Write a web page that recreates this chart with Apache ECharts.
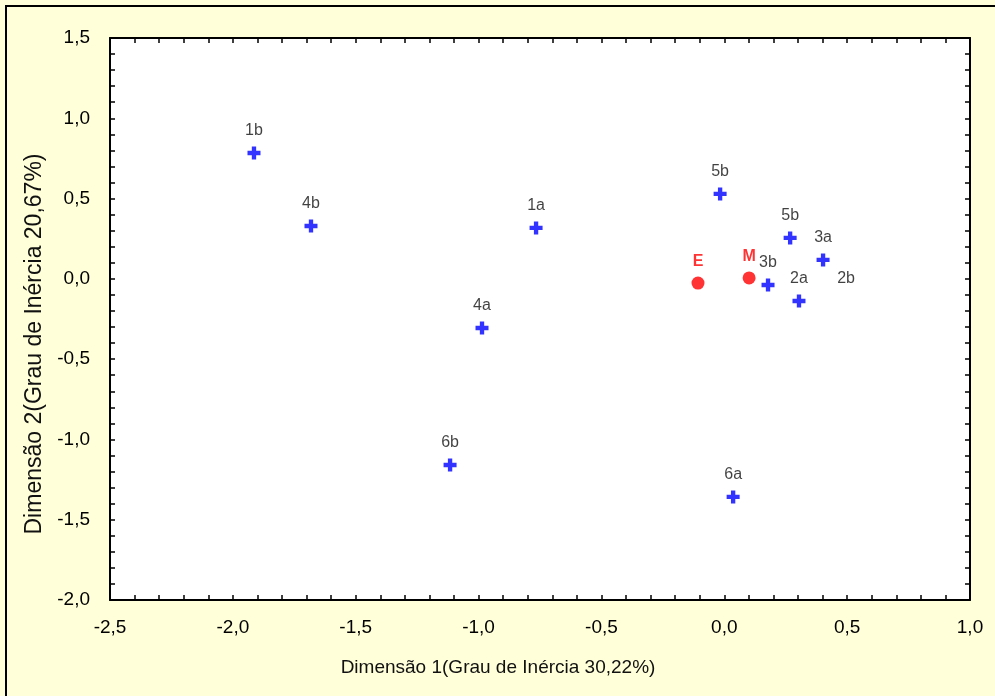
<!DOCTYPE html>
<html>
<head>
<meta charset="utf-8">
<script src="https://cdn.jsdelivr.net/npm/echarts@6/dist/echarts.min.js"></script>
<style>html,body{margin:0;padding:0;background:#FFFFD9;}#c{width:995px;height:696px;}</style>
</head>
<body>
<div id="c"></div>
<script>
const crossLabels = ['1b','4b','1a','4a','6b','6a','5b','5b','3a','3b','2a','2b'];
const crossX = [-1.914,-1.682,-0.766,-0.986,-1.116,0.036,-0.017,0.268,0.402,0.178,0.304,0.402];
const crossY = [0.784,0.329,0.317,-0.306,-1.159,-1.358,0.529,0.255,0.118,-0.038,-0.138,0.118];
const circleLabels = ['E','M'];
const circleX = [-0.107,0.101];
const circleY = [-0.026,0.006];
const xTicks = [-2.5,-2.0,-1.5,-1.0,-0.5,0.0,0.5,1.0];
const yTicks = [-2.0,-1.5,-1.0,-0.5,0.0,0.5,1.0,1.5];

const fmt = v => v.toFixed(1).replace('.', ',');
const font = "'Liberation Sans', Arial, sans-serif";

const crossData = crossLabels.map((n,i) => {
  const d = {name:n, value:[crossX[i], crossY[i]]};
  if (n === '2b') {
    d.itemStyle = {color:'rgba(0,0,0,0)'};
    d.label = {offset:[23, 41]};
  }
  return d;
});
const circleData = circleLabels.map((n,i) => ({name:n, value:[circleX[i], circleY[i]]}));

const chart = echarts.init(document.getElementById('c'));
const axisCommon = {
  axisLine:{show:true, onZero:false, lineStyle:{color:'#000', width:2}},
  axisTick:{show:true, inside:true, length:5, lineStyle:{color:'#000', width:1.5}},
  minorTick:{show:true, splitNumber:5, length:5, lineStyle:{color:'#000', width:1.5}},
  splitLine:{show:false}
};
chart.setOption({
  backgroundColor:'#FFFFD9',
  animation:false,
  graphic:[{type:'rect', shape:{x:6, y:6, width:1000, height:700}, style:{fill:null, stroke:'#000', lineWidth:2}, z:-1}],
  grid:{left:110, right:25, top:38, bottom:96, backgroundColor:'#fff', show:true, borderWidth:0},
  xAxis:[
    Object.assign({type:'value', min:xTicks[0], max:xTicks[xTicks.length-1], interval:0.5, position:'bottom',
      name:'Dimensão 1(Grau de Inércia 30,22%)', nameLocation:'middle', nameGap:58,
      nameTextStyle:{fontFamily:font, fontSize:19, color:'#111', padding:[0,84,0,0]},
      axisLabel:{formatter:fmt, fontFamily:font, fontSize:19, color:'#000', margin:18}}, axisCommon),
    Object.assign({type:'value', min:xTicks[0], max:xTicks[xTicks.length-1], interval:0.5, position:'top',
      axisLabel:{show:false}}, axisCommon)
  ],
  yAxis:[
    Object.assign({type:'value', min:yTicks[0], max:yTicks[yTicks.length-1], interval:0.5, position:'left',
      name:'Dimensão 2(Grau de Inércia 20,67%)', nameLocation:'middle', nameGap:64,
      nameTextStyle:{fontFamily:font, fontSize:23, color:'#111', padding:[0,50,0,0]},
      axisLabel:{formatter:fmt, fontFamily:font, fontSize:19, color:'#000', margin:20}}, axisCommon),
    Object.assign({type:'value', min:yTicks[0], max:yTicks[yTicks.length-1], interval:0.5, position:'right',
      axisLabel:{show:false}}, axisCommon)
  ],
  series:[
    {type:'scatter', data:crossData, symbol:'path://M4,0h4v4h4v4h-4v4h-4v-4h-4v-4h4z', symbolSize:13,
      itemStyle:{color:'#0000FF'},
      label:{show:true, formatter:'{b}', position:'top', distance:8, fontFamily:font, fontSize:16, color:'#111'}},
    {type:'scatter', data:circleData, symbol:'circle', symbolSize:13,
      itemStyle:{color:'#FF0000'},
      label:{show:true, formatter:'{b}', position:'top', distance:7, fontFamily:font, fontSize:16, fontWeight:'bold', color:'#FF0000'}}
  ]
});
</script>
</body>
</html>
